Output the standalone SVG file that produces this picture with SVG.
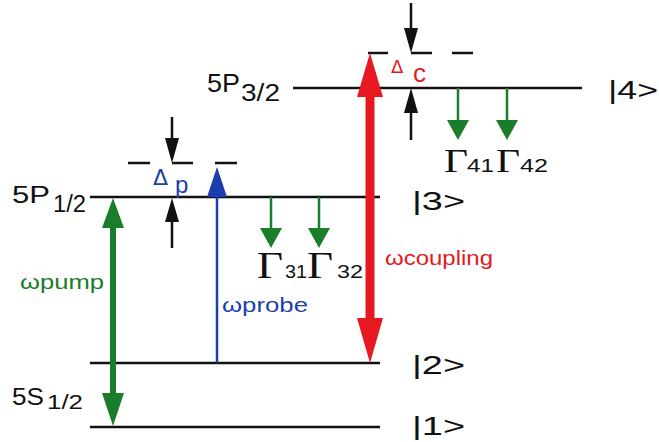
<svg xmlns="http://www.w3.org/2000/svg" width="659" height="442" viewBox="0 0 659 442">
<style>
.lvl{stroke:#111;stroke-width:2.5;fill:none}
.dash{stroke:#111;stroke-width:2.5;fill:none}
.lbl{font-family:"Liberation Sans",Arial,sans-serif;fill:#111}
.gam{font-family:"Liberation Serif","Times New Roman",serif;fill:#111}
.dl{font-family:"DejaVu Sans","Liberation Sans",sans-serif}
.blk{stroke:#111;stroke-width:2.5}
.blkh{fill:#111}
.grn{stroke:#1a7d2a;fill:none}
.grnh{fill:#1a7d2a}
.blu{stroke:#1c3fae;fill:none}
.bluh{fill:#1c3fae}
.red{stroke:#e5191f;fill:none}
.redh{fill:#e5191f}
</style>
<rect width="659" height="442" fill="#fff"/>
<g id="level4">
  <line class="lvl" x1="293" y1="88" x2="582" y2="88"/>
  <text class="lbl" x="207" y="92" font-size="26" textLength="33" lengthAdjust="spacingAndGlyphs">5P</text>
  <text class="lbl" x="241" y="101" font-size="23" textLength="39" lengthAdjust="spacingAndGlyphs">3/2</text>
  <text class="lbl" x="608" y="99" font-size="26" textLength="50" lengthAdjust="spacingAndGlyphs">|4&gt;</text>
</g>
<g id="level3">
  <line class="lvl" x1="90" y1="197" x2="380" y2="197"/>
  <text class="lbl" x="12" y="203" font-size="23" textLength="38" lengthAdjust="spacingAndGlyphs">5P</text>
  <text class="lbl" x="53" y="212" font-size="23" textLength="33" lengthAdjust="spacingAndGlyphs">1/2</text>
  <text class="lbl" x="412" y="210" font-size="25" textLength="53" lengthAdjust="spacingAndGlyphs">|3&gt;</text>
</g>
<g id="level2">
  <line class="lvl" x1="90" y1="363" x2="380" y2="363"/>
  <text class="lbl" x="412" y="374" font-size="26" textLength="53" lengthAdjust="spacingAndGlyphs">|2&gt;</text>
</g>
<g id="level1">
  <line class="lvl" x1="90" y1="427" x2="380" y2="427"/>
  <text class="lbl" x="12" y="405" font-size="23" textLength="32" lengthAdjust="spacingAndGlyphs">5S</text>
  <text class="lbl" x="47" y="409" font-size="21" textLength="36" lengthAdjust="spacingAndGlyphs">1/2</text>
  <text class="lbl" x="412" y="435" font-size="25" textLength="53" lengthAdjust="spacingAndGlyphs">|1&gt;</text>
</g>
<g id="detuning-p">
  <line class="dash" x1="128" y1="163" x2="150" y2="163"/>
  <line class="dash" x1="172" y1="163" x2="193" y2="163"/>
  <line class="dash" x1="215" y1="163" x2="237" y2="163"/>
  <text class="dl" x="153" y="185" font-size="22" style="fill:#1c3fae">Δ</text>
  <text class="lbl" x="175" y="193" font-size="24" style="fill:#1c3fae">p</text>
</g>
<g id="detuning-c">
  <line class="dash" x1="368" y1="53" x2="388" y2="53"/>
  <line class="dash" x1="411" y1="53" x2="432" y2="53"/>
  <line class="dash" x1="452" y1="53" x2="473" y2="53"/>
  <text class="dl" x="391" y="73" font-size="18" style="fill:#e5191f">Δ</text>
  <text class="lbl" x="413" y="82" font-size="26" style="fill:#e5191f">c</text>
</g>
<g id="connectors">
  <line class="blk" x1="172" y1="117" x2="172" y2="142"/>
  <polygon class="blkh" points="165,138 179,138 172,163"/>
  <line class="blk" x1="172" y1="220" x2="172" y2="248"/>
  <polygon class="blkh" points="165,222 179,222 172,198"/>
  <line class="blk" x1="411" y1="3" x2="411" y2="30"/>
  <polygon class="blkh" points="404,28 418,28 411,53"/>
  <line class="blk" x1="411" y1="110" x2="411" y2="140"/>
  <polygon class="blkh" points="404,113 418,113 411,88"/>
  <line class="grn" stroke-width="6" x1="113" y1="222" x2="113" y2="400"/>
  <polygon class="grnh" points="102,228 124,228 113,198"/>
  <polygon class="grnh" points="102,393 124,393 113,426"/>
  <text x="20" y="289" font-size="20" font-family="Liberation Sans,DejaVu Sans,sans-serif" fill="#1a7d2a" textLength="84" lengthAdjust="spacingAndGlyphs">ωpump</text>
  <line class="blu" stroke-width="2.5" x1="217" y1="190" x2="217" y2="363"/>
  <polygon class="bluh" points="207,197 227,197 217,167"/>
  <text x="222" y="312" font-size="21" font-family="Liberation Sans,DejaVu Sans,sans-serif" fill="#1c3fae" textLength="86" lengthAdjust="spacingAndGlyphs">ωprobe</text>
  <line class="red" stroke-width="9" x1="370" y1="92" x2="370" y2="322"/>
  <polygon class="redh" points="357,97 383,97 370,53"/>
  <polygon class="redh" points="357,318 383,318 370,363"/>
  <text x="385" y="265" font-size="21" font-family="Liberation Sans,DejaVu Sans,sans-serif" fill="#e5191f" textLength="108" lengthAdjust="spacingAndGlyphs">ωcoupling</text>
  <line class="grn" stroke-width="2.5" x1="271" y1="197" x2="271" y2="232"/>
  <polygon class="grnh" points="260,228 282,228 271,248"/>
  <line class="grn" stroke-width="2.5" x1="319" y1="197" x2="319" y2="232"/>
  <polygon class="grnh" points="308,228 330,228 319,248"/>
  <line class="grn" stroke-width="2.5" x1="458" y1="88" x2="458" y2="124"/>
  <polygon class="grnh" points="447,120 469,120 458,140"/>
  <line class="grn" stroke-width="2.5" x1="507" y1="88" x2="507" y2="124"/>
  <polygon class="grnh" points="496,120 518,120 507,140"/>
</g>
<g id="rates">
  <text class="gam" x="257" y="278" font-size="37" textLength="26" lengthAdjust="spacingAndGlyphs">Γ</text>
  <text class="lbl" x="285" y="278" font-size="18" textLength="22" lengthAdjust="spacingAndGlyphs">31</text>
  <text class="gam" x="307" y="278" font-size="37" textLength="26" lengthAdjust="spacingAndGlyphs">Γ</text>
  <text class="lbl" x="337" y="278" font-size="18" textLength="26" lengthAdjust="spacingAndGlyphs">32</text>
  <text class="gam" x="444" y="172" font-size="33" textLength="24" lengthAdjust="spacingAndGlyphs">Γ</text>
  <text class="lbl" x="467" y="172" font-size="18" textLength="27" lengthAdjust="spacingAndGlyphs">41</text>
  <text class="gam" x="496" y="172" font-size="33" textLength="24" lengthAdjust="spacingAndGlyphs">Γ</text>
  <text class="lbl" x="520" y="172" font-size="18" textLength="28" lengthAdjust="spacingAndGlyphs">42</text>
</g>
</svg>
